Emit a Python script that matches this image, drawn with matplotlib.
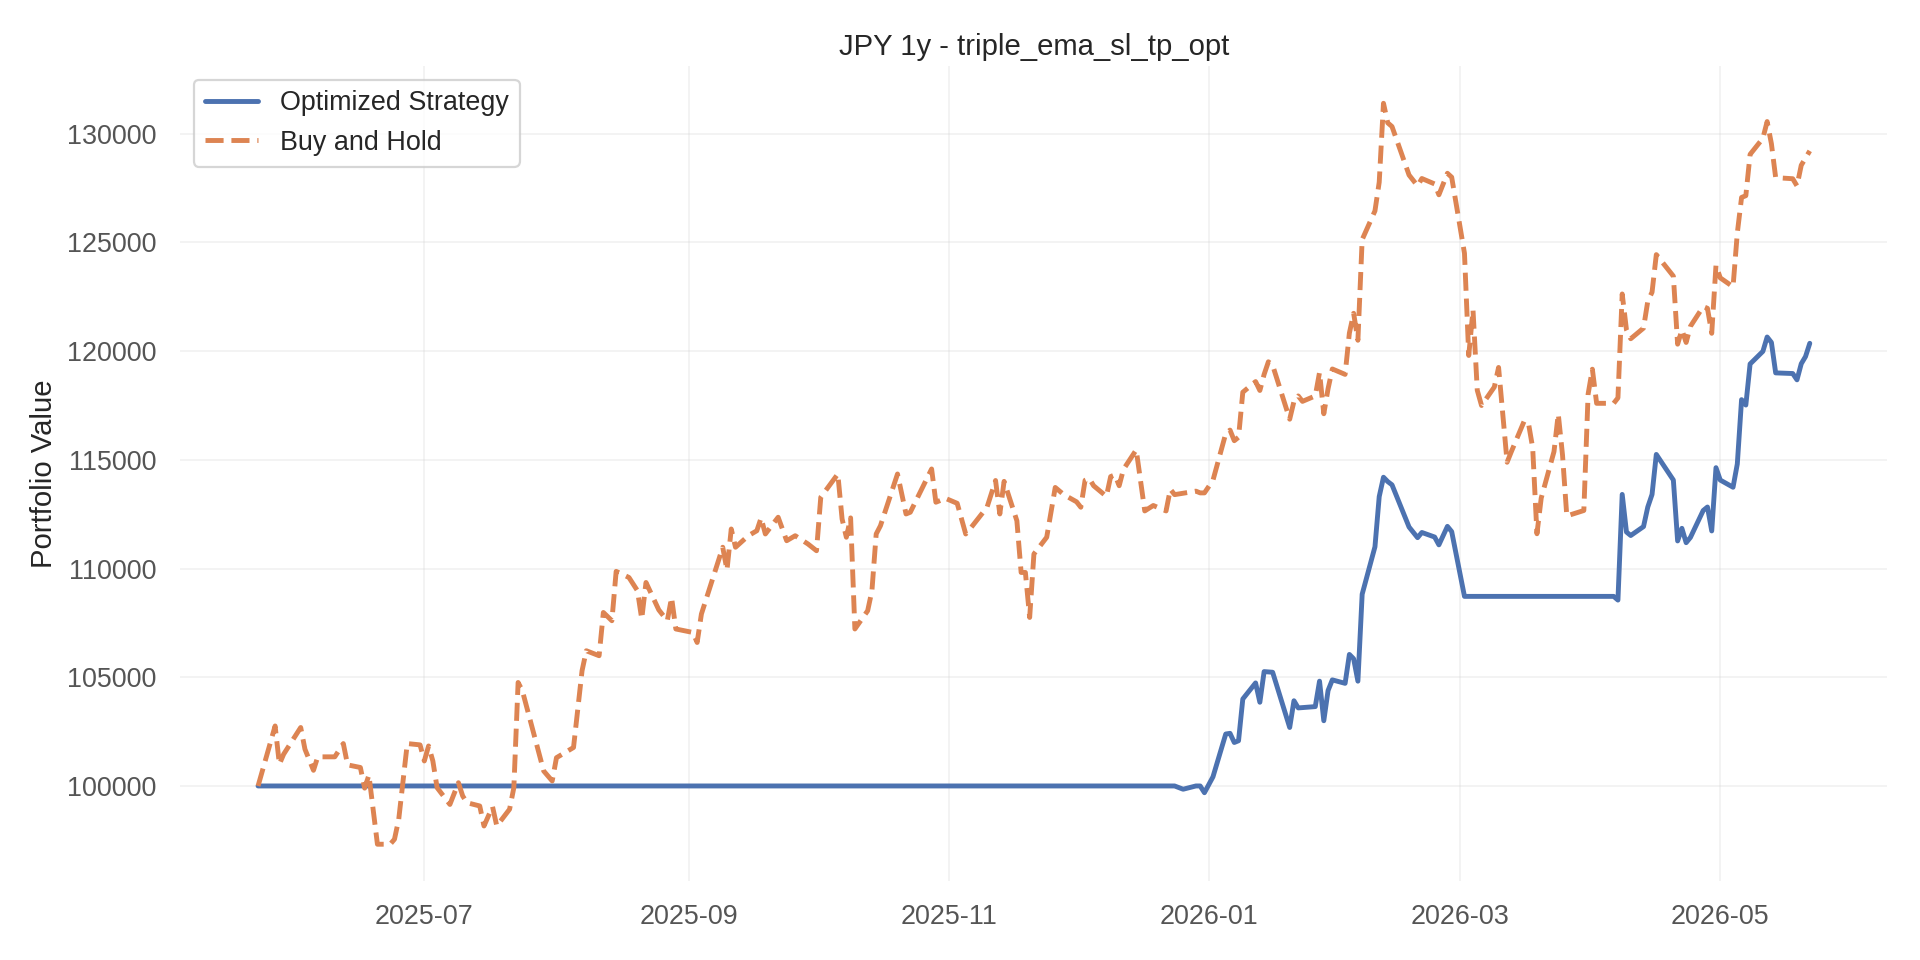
import pandas as pd
import matplotlib
matplotlib.use('Agg')
import matplotlib.pyplot as plt
import matplotlib.dates as mdates
from matplotlib.ticker import MultipleLocator
import seaborn as sns

sns.set_theme(style='whitegrid')
plt.rcParams['font.family'] = ['Liberation Sans', 'DejaVu Sans']

# Buy and Hold portfolio value
hold_dates = [
    '2025-05-23', '2025-05-27', '2025-05-28', '2025-05-29', '2025-06-02', '2025-06-03',
    '2025-06-05', '2025-06-06', '2025-06-10', '2025-06-12', '2025-06-13', '2025-06-16',
    '2025-06-17', '2025-06-18', '2025-06-20', '2025-06-23', '2025-06-24', '2025-06-25',
    '2025-06-27', '2025-06-30', '2025-07-01', '2025-07-02', '2025-07-03', '2025-07-04',
    '2025-07-07', '2025-07-09', '2025-07-10', '2025-07-11', '2025-07-14', '2025-07-15',
    '2025-07-17', '2025-07-18', '2025-07-21', '2025-07-22', '2025-07-23', '2025-07-24',
    '2025-07-29', '2025-07-31', '2025-08-01', '2025-08-05', '2025-08-07', '2025-08-08',
    '2025-08-11', '2025-08-12', '2025-08-14', '2025-08-15', '2025-08-18', '2025-08-20',
    '2025-08-21', '2025-08-22', '2025-08-25', '2025-08-27', '2025-08-28', '2025-08-29',
    '2025-09-02', '2025-09-03', '2025-09-04', '2025-09-08', '2025-09-09', '2025-09-10',
    '2025-09-11', '2025-09-12', '2025-09-15', '2025-09-17', '2025-09-18', '2025-09-19',
    '2025-09-22', '2025-09-24', '2025-09-26', '2025-09-29', '2025-10-01', '2025-10-02',
    '2025-10-06', '2025-10-07', '2025-10-08', '2025-10-09', '2025-10-10', '2025-10-13',
    '2025-10-14', '2025-10-15', '2025-10-16', '2025-10-20', '2025-10-22', '2025-10-23',
    '2025-10-28', '2025-10-29', '2025-10-30', '2025-10-31', '2025-11-03', '2025-11-05',
    '2025-11-06', '2025-11-10', '2025-11-12', '2025-11-13', '2025-11-14', '2025-11-17',
    '2025-11-18', '2025-11-19', '2025-11-20', '2025-11-21', '2025-11-24', '2025-11-26',
    '2025-11-28', '2025-12-01', '2025-12-02', '2025-12-03', '2025-12-04', '2025-12-05',
    '2025-12-08', '2025-12-09', '2025-12-10', '2025-12-11', '2025-12-12', '2025-12-15',
    '2025-12-17', '2025-12-19', '2025-12-22', '2025-12-23', '2025-12-24', '2025-12-29',
    '2025-12-30', '2025-12-31', '2026-01-02', '2026-01-05', '2026-01-06', '2026-01-07',
    '2026-01-08', '2026-01-09', '2026-01-12', '2026-01-13', '2026-01-14', '2026-01-15',
    '2026-01-16', '2026-01-20', '2026-01-21', '2026-01-22', '2026-01-23', '2026-01-26',
    '2026-01-27', '2026-01-28', '2026-01-29', '2026-01-30', '2026-02-02', '2026-02-03',
    '2026-02-04', '2026-02-05', '2026-02-06', '2026-02-09', '2026-02-10', '2026-02-11',
    '2026-02-12', '2026-02-13', '2026-02-17', '2026-02-19', '2026-02-20', '2026-02-23',
    '2026-02-24', '2026-02-26', '2026-02-27', '2026-03-02', '2026-03-03', '2026-03-04',
    '2026-03-05', '2026-03-06', '2026-03-09', '2026-03-10', '2026-03-12', '2026-03-13',
    '2026-03-16', '2026-03-17', '2026-03-18', '2026-03-19', '2026-03-20', '2026-03-23',
    '2026-03-24', '2026-03-25', '2026-03-26', '2026-03-30', '2026-03-31', '2026-04-01',
    '2026-04-02', '2026-04-06', '2026-04-07', '2026-04-08', '2026-04-09', '2026-04-10',
    '2026-04-13', '2026-04-14', '2026-04-15', '2026-04-16', '2026-04-20', '2026-04-21',
    '2026-04-22', '2026-04-23', '2026-04-24', '2026-04-27', '2026-04-28', '2026-04-29',
    '2026-04-30', '2026-05-01', '2026-05-04', '2026-05-05', '2026-05-06', '2026-05-07',
    '2026-05-08', '2026-05-11', '2026-05-12', '2026-05-13', '2026-05-14', '2026-05-18',
    '2026-05-19', '2026-05-20', '2026-05-22',
]
hold_values = [
    100000, 102760, 101000, 101460, 102690, 101690,
    100720, 101340, 101340, 101950, 100970, 100850,
    99900, 100500, 97320, 97320, 97550, 98470,
    101950, 101890, 101150, 101840, 101150, 99920,
    99150, 100150, 99540, 99230, 99080, 98160,
    99050, 98160, 98930, 99920, 104760, 104380,
    100690, 100230, 101300, 101770, 105300, 106220,
    105990, 107980, 107600, 109870, 109590, 108980,
    107680, 109360, 108100, 107600, 108670, 107220,
    107060, 106600, 107910, 110360, 110980, 109930,
    111820, 110980, 111510, 111740, 112330, 111590,
    112360, 111280, 111510, 111130, 110820, 113280,
    114350, 112280, 111440, 112330, 107220, 108060,
    108980, 111590, 111970, 114350, 112510, 112590,
    114580, 113050, 113130, 113250, 113000, 111590,
    111820, 112820, 114050, 112510, 114010, 112200,
    109820, 109820, 107750, 110670, 111440, 113730,
    113400, 113070, 112820, 114060, 114140, 113810,
    113320, 114230, 114310, 113810, 114560, 115460,
    112650, 112900, 112650, 113650, 113400, 113560,
    113480, 113480, 114060, 116210, 116370, 115880,
    116040, 118110, 118600, 118190, 118930, 119510,
    119350, 116870, 117690, 117940, 117690, 117940,
    119020, 117120, 118270, 119180, 118930, 120830,
    121740, 120500, 125130, 126450, 127770, 131400,
    130500, 130330, 128100, 127600, 127940, 127690,
    127190, 128180, 128000, 124500, 119800, 121900,
    118200, 117500, 118350, 119250, 114890, 115380,
    116780, 116700, 115550, 111600, 113240, 115380,
    117110, 115220, 112420, 112670, 118020, 119170,
    117600, 117600, 117850, 122630, 120980, 120570,
    121060, 122300, 122710, 124440, 123450, 120320,
    120980, 120400, 121140, 122050, 121970, 120820,
    123950, 123370, 122960, 125430, 127070, 127150,
    129050, 129790, 130560, 129540, 127980, 127930,
    127600, 128550, 129210,
]

# Optimized Strategy portfolio value
strat_dates = [
    '2025-05-23', '2025-12-24', '2025-12-26', '2025-12-29', '2025-12-30', '2025-12-31',
    '2026-01-02', '2026-01-05', '2026-01-06', '2026-01-07', '2026-01-08', '2026-01-09',
    '2026-01-12', '2026-01-13', '2026-01-14', '2026-01-16', '2026-01-20', '2026-01-21',
    '2026-01-22', '2026-01-26', '2026-01-27', '2026-01-28', '2026-01-29', '2026-01-30',
    '2026-02-02', '2026-02-03', '2026-02-04', '2026-02-05', '2026-02-06', '2026-02-09',
    '2026-02-10', '2026-02-11', '2026-02-12', '2026-02-13', '2026-02-17', '2026-02-19',
    '2026-02-20', '2026-02-23', '2026-02-24', '2026-02-26', '2026-02-27', '2026-03-02',
    '2026-04-06', '2026-04-07', '2026-04-08', '2026-04-09', '2026-04-10', '2026-04-13',
    '2026-04-14', '2026-04-15', '2026-04-16', '2026-04-20', '2026-04-21', '2026-04-22',
    '2026-04-23', '2026-04-24', '2026-04-27', '2026-04-28', '2026-04-29', '2026-04-30',
    '2026-05-01', '2026-05-04', '2026-05-05', '2026-05-06', '2026-05-07', '2026-05-08',
    '2026-05-11', '2026-05-12', '2026-05-13', '2026-05-14', '2026-05-18', '2026-05-19',
    '2026-05-20', '2026-05-21', '2026-05-22',
]
strat_values = [
    100000, 100000, 99850, 100000, 100000, 99690,
    100420, 102390, 102420, 102000, 102080, 104000,
    104740, 103850, 105260, 105230, 102690, 103920,
    103590, 103650, 104820, 103000, 104390, 104880,
    104720, 106050, 105850, 104820, 108820, 111000,
    113310, 114200, 114000, 113850, 111910, 111420,
    111660, 111450, 111090, 111940, 111700, 108720,
    108720, 108550, 113410, 111680, 111520, 111930,
    112830, 113410, 115250, 114070, 111270, 111850,
    111190, 111430, 112670, 112830, 111730, 114640,
    114070, 113740, 114810, 117770, 117520, 119410,
    119990, 120650, 120400, 119000, 118970, 118680,
    119420, 119750, 120360,
]

title = 'JPY 1y - triple_ema_sl_tp_opt'
colors = sns.color_palette('deep')

fig = plt.figure(figsize=(12, 6), dpi=160)
ax = fig.add_subplot(111)
fig.subplots_adjust(left=0.094, right=0.983, top=0.931, bottom=0.082)

ax.plot(pd.to_datetime(strat_dates), strat_values, color=colors[0], lw=2.2,
        label='Optimized Strategy')
ax.plot(pd.to_datetime(hold_dates), hold_values, color=colors[1], lw=2.2,
        ls='--', label='Buy and Hold')

ax.set_title(title, fontsize=13.2, color='#262626', pad=5)
ax.set_ylabel('Portfolio Value', fontsize=13.2, color='#262626', labelpad=4)
ax.yaxis.set_major_locator(MultipleLocator(5000))
ax.xaxis.set_major_locator(mdates.MonthLocator(bymonth=[1, 3, 5, 7, 9, 11]))
ax.xaxis.set_major_formatter(mdates.DateFormatter('%Y-%m'))
ax.tick_params(axis='y', length=0, pad=11, labelsize=12.1, labelcolor='#555555')
ax.tick_params(axis='x', length=0, pad=10, labelsize=12.1, labelcolor='#555555')

ax.grid(True, color='#cccccc', alpha=0.25, lw=0.8)
for s in ax.spines.values():
    s.set_visible(False)

ax.legend(loc='upper left', fontsize=12.1, frameon=True, edgecolor='#cccccc')

plt.savefig('out.png', dpi=160)
